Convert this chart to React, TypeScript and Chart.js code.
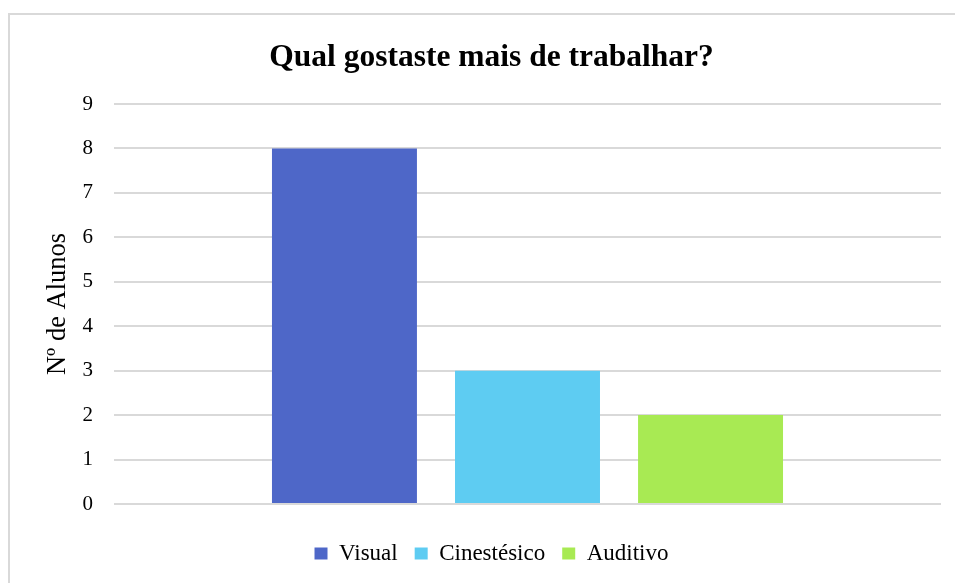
import React, { useEffect, useRef } from "react";
import { Chart, registerables } from "chart.js";

Chart.register(...registerables);

const TITLE = "Qual gostaste mais de trabalhar?";
const Y_TITLE = "Nº de Alunos";
const CATEGORIES = [""];
const SERIES_NAMES = ["Visual", "Cinestésico", "Auditivo"];
const SERIES_VALUES = [8, 3, 2];
const SERIES_COLORS = ["#4E67C8", "#5ECCF2", "#A8EA53"];
const Y_MIN = 0;
const Y_MAX = 9;
const Y_STEP = 1;

const FONT = "'Liberation Serif', 'Times New Roman', serif";

export default function App() {
  const ref = useRef<HTMLCanvasElement | null>(null);

  useEffect(() => {
    if (!ref.current) return;
    const chart = new Chart(ref.current, {
      type: "bar",
      data: {
        labels: CATEGORIES,
        datasets: SERIES_NAMES.map((name, i) => ({
          label: name,
          data: [SERIES_VALUES[i]],
          backgroundColor: SERIES_COLORS[i],
          borderWidth: 0,
          categoryPercentage: 0.664,
          barPercentage: 0.792,
        })),
      },
      options: {
        responsive: false,
        animation: false,
        layout: { padding: { left: 32, right: 14, top: 0, bottom: 8 } },
        plugins: {
          tooltip: { enabled: false },
          title: {
            display: true,
            text: TITLE,
            color: "#000",
            font: { family: FONT, size: 31.5, weight: "bold", lineHeight: 1.2 },
            padding: { top: 24, bottom: 27.2 },
          },
          legend: {
            display: true,
            position: "bottom",
            labels: {
              color: "#000",
              font: { family: FONT, size: 23 },
              boxWidth: 13,
              boxHeight: 12,
              padding: 17,
            },
          },
        },
        scales: {
          x: {
            ticks: { display: false },
            grid: { display: false },
            border: { display: false },
            afterFit: (scale: any) => {
              scale.height = 21;
            },
          },
          y: {
            min: Y_MIN,
            max: Y_MAX,
            ticks: {
              stepSize: Y_STEP,
              color: "#000",
              font: { family: FONT, size: 21 },
              padding: 21,
            },
            grid: { color: "#d9d9d9", lineWidth: 2, drawTicks: false },
            border: { display: false },
            title: {
              display: true,
              text: Y_TITLE,
              color: "#000",
              font: { family: FONT, size: 26.5, lineHeight: 1.2 },
              padding: { top: 0, bottom: 0 },
            },
            afterFit: (scale: any) => {
              scale.width = 72;
            },
          },
        },
      },
    });
    return () => chart.destroy();
  }, []);

  return (
    <div
      style={{
        position: "fixed",
        left: 8,
        top: 13,
        width: 960,
        height: 580,
        borderLeft: "2px solid #d9d9d9",
        borderTop: "2px solid #d9d9d9",
        boxSizing: "border-box",
        overflow: "hidden",
        background: "#fff",
      }}
    >
      <canvas ref={ref} width={945} height={568} style={{ display: "block" }} />
    </div>
  );
}
